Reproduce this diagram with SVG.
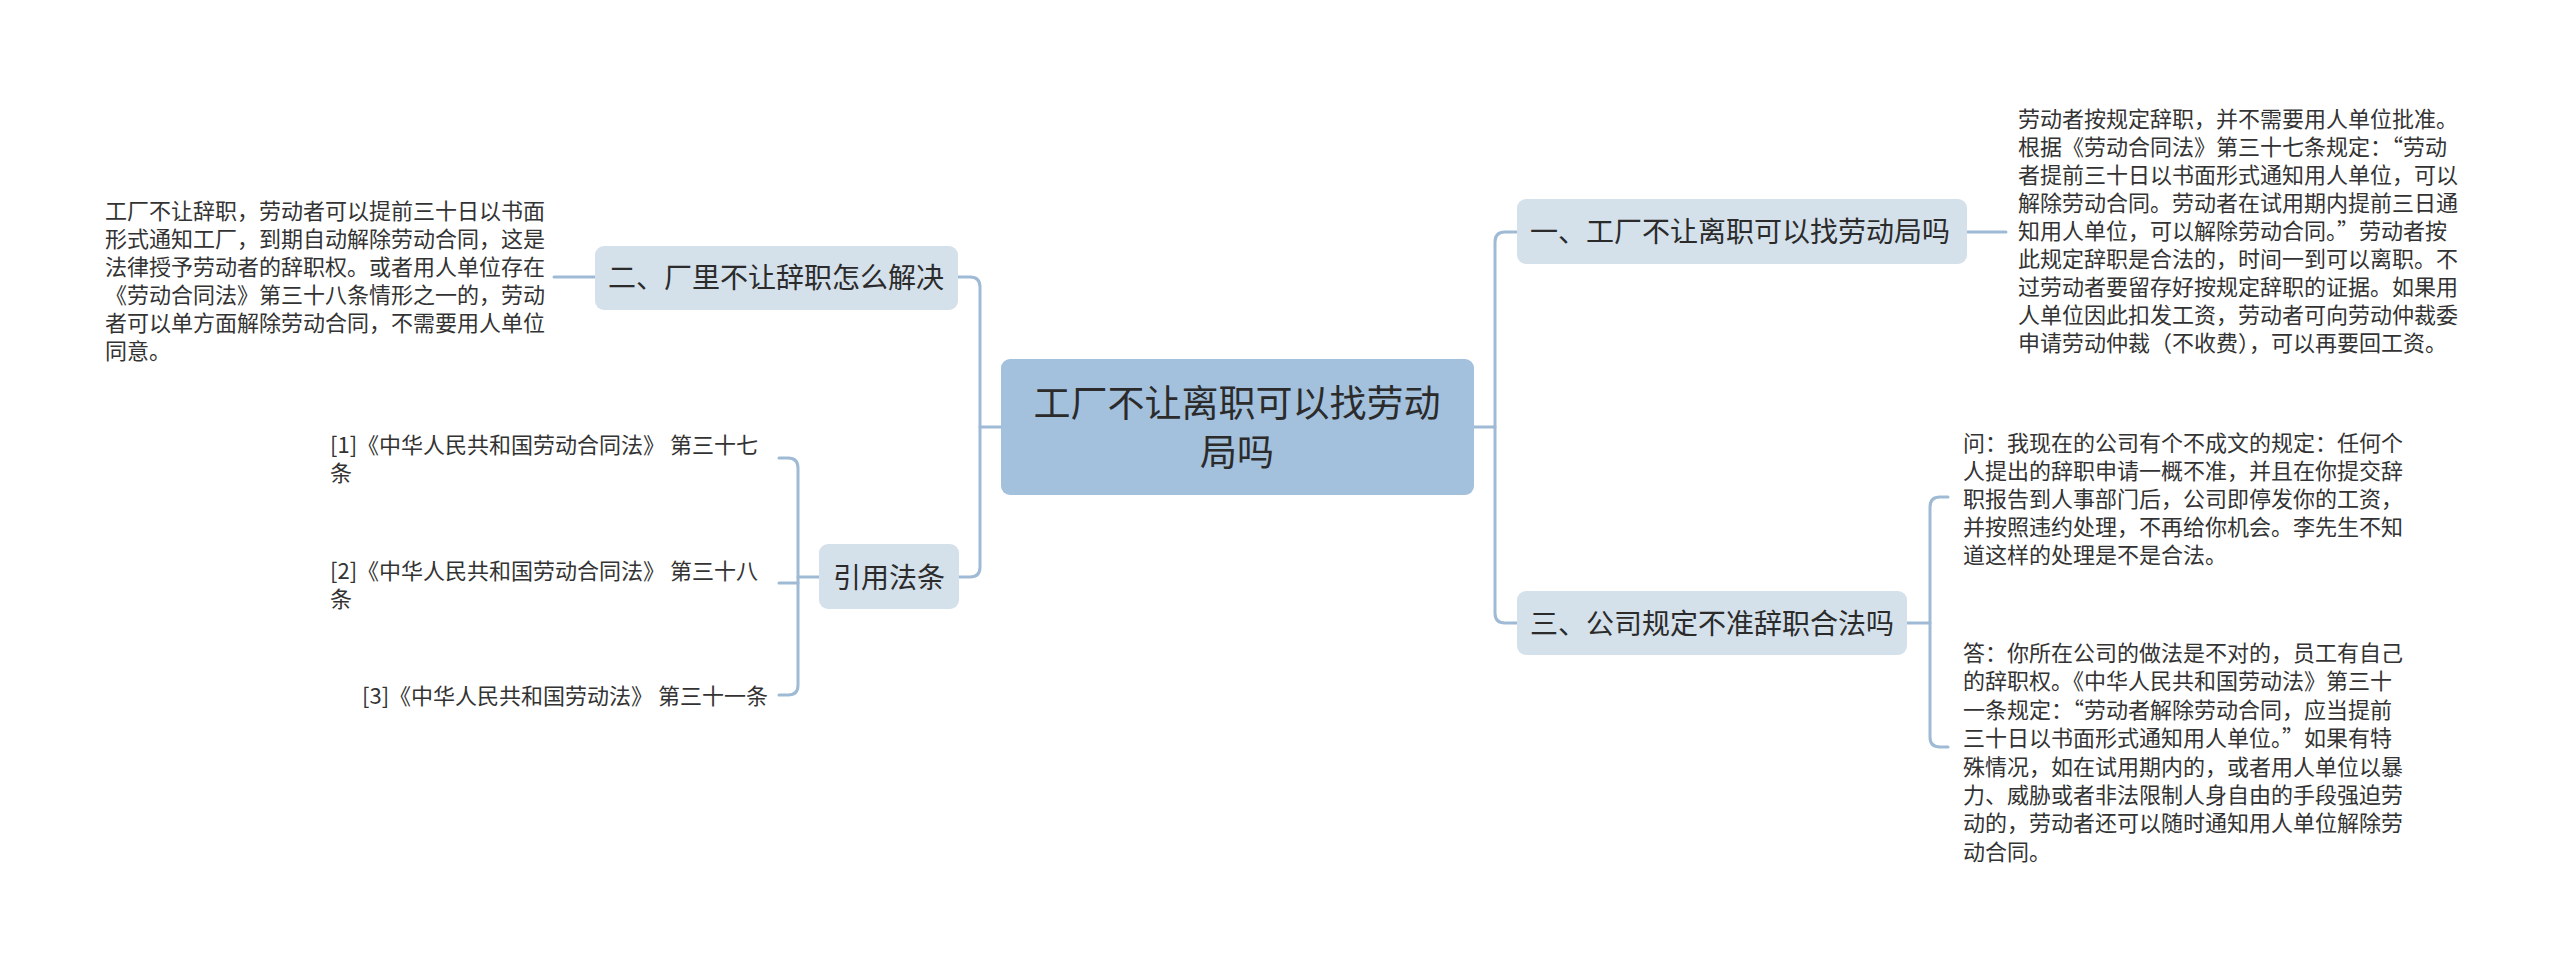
<svg xmlns="http://www.w3.org/2000/svg" width="2560" height="966" viewBox="0 0 2560 966">
<style>
.conn{fill:none;stroke:#9fbad5;stroke-width:3;stroke-linecap:round}
.root{fill:#a3c0dc}
.sub{fill:#d4e0ea}
text{font-family:"Noto Sans CJK SC","Microsoft YaHei",sans-serif;fill:#2b2b2b}
.t36{font-size:37px}
.t28{font-size:28px}
.t22{font-size:22px;fill:#333}
</style>
<rect width="2560" height="966" fill="#ffffff"/>
<g id="connectors">
<path class="conn" d="M1474,427 H1495"/>
<path class="conn" d="M1517,232 H1505 Q1495,232 1495,242 V613 Q1495,623 1505,623 H1517"/>
<path class="conn" d="M1967,232 H2006"/>
<path class="conn" d="M1907,623 H1930"/>
<path class="conn" d="M1948,497 H1940 Q1930,497 1930,507 V737 Q1930,747 1940,747 H1948"/>
<path class="conn" d="M1001,427 H980"/>
<path class="conn" d="M958,277 H970 Q980,277 980,287 V567 Q980,577 970,577 H958"/>
<path class="conn" d="M595,277 H554"/>
<path class="conn" d="M819,577 H798"/>
<path class="conn" d="M779,458 H788 Q798,458 798,468 V685 Q798,695 788,695 H779"/>
<path class="conn" d="M798,583 H779"/>
</g>
<g id="root">
<rect class="root" x="1001" y="359" width="473" height="136" rx="9"/>
<text class="t36" x="1237" y="417" text-anchor="middle">工厂不让离职可以找劳动</text>
<text class="t36" x="1237" y="466" text-anchor="middle">局吗</text>
</g>
<g id="node1">
<rect class="sub" x="1517" y="199" width="450" height="65" rx="9"/>
<text class="t28" x="1530" y="242">一、工厂不让离职可以找劳动局吗</text>
</g>
<g id="node1-text">
<text class="t22" x="2018" y="127">劳动者按规定辞职，并不需要用人单位批准。</text>
<text class="t22" x="2018" y="155">根据《劳动合同法》第三十七条规定：“劳动</text>
<text class="t22" x="2018" y="183">者提前三十日以书面形式通知用人单位，可以</text>
<text class="t22" x="2018" y="211">解除劳动合同。劳动者在试用期内提前三日通</text>
<text class="t22" x="2018" y="239">知用人单位，可以解除劳动合同。”劳动者按</text>
<text class="t22" x="2018" y="267">此规定辞职是合法的，时间一到可以离职。不</text>
<text class="t22" x="2018" y="295">过劳动者要留存好按规定辞职的证据。如果用</text>
<text class="t22" x="2018" y="323">人单位因此扣发工资，劳动者可向劳动仲裁委</text>
<text class="t22" x="2018" y="351">申请劳动仲裁（不收费），可以再要回工资。</text>
</g>
<g id="node3">
<rect class="sub" x="1517" y="591" width="390" height="64" rx="9"/>
<text class="t28" x="1530" y="634">三、公司规定不准辞职合法吗</text>
</g>
<g id="node3-q">
<text class="t22" x="1963" y="451">问：我现在的公司有个不成文的规定：任何个</text>
<text class="t22" x="1963" y="479">人提出的辞职申请一概不准，并且在你提交辞</text>
<text class="t22" x="1963" y="507">职报告到人事部门后，公司即停发你的工资，</text>
<text class="t22" x="1963" y="535">并按照违约处理，不再给你机会。李先生不知</text>
<text class="t22" x="1963" y="563">道这样的处理是不是合法。</text>
</g>
<g id="node3-a">
<text class="t22" x="1963" y="661">答：你所在公司的做法是不对的，员工有自己</text>
<text class="t22" x="1963" y="689.4">的辞职权。《中华人民共和国劳动法》第三十</text>
<text class="t22" x="1963" y="717.8">一条规定：“劳动者解除劳动合同，应当提前</text>
<text class="t22" x="1963" y="746.2">三十日以书面形式通知用人单位。”如果有特</text>
<text class="t22" x="1963" y="774.6">殊情况，如在试用期内的，或者用人单位以暴</text>
<text class="t22" x="1963" y="803">力、威胁或者非法限制人身自由的手段强迫劳</text>
<text class="t22" x="1963" y="831.4">动的，劳动者还可以随时通知用人单位解除劳</text>
<text class="t22" x="1963" y="859.8">动合同。</text>
</g>
<g id="node2">
<rect class="sub" x="595" y="246" width="363" height="64" rx="9"/>
<text class="t28" x="608" y="288">二、厂里不让辞职怎么解决</text>
</g>
<g id="node2-text">
<text class="t22" x="105" y="219">工厂不让辞职，劳动者可以提前三十日以书面</text>
<text class="t22" x="105" y="247">形式通知工厂，到期自动解除劳动合同，这是</text>
<text class="t22" x="105" y="275">法律授予劳动者的辞职权。或者用人单位存在</text>
<text class="t22" x="105" y="303">《劳动合同法》第三十八条情形之一的，劳动</text>
<text class="t22" x="105" y="331">者可以单方面解除劳动合同，不需要用人单位</text>
<text class="t22" x="105" y="359">同意。</text>
</g>
<g id="node4">
<rect class="sub" x="819" y="544" width="140" height="65" rx="9"/>
<text class="t28" x="889" y="588" text-anchor="middle">引用法条</text>
</g>
<g id="ref1">
<text class="t22" x="330" y="453">[1]《中华人民共和国劳动合同法》 第三十七</text>
<text class="t22" x="330" y="481">条</text>
</g>
<g id="ref2">
<text class="t22" x="330" y="579">[2]《中华人民共和国劳动合同法》 第三十八</text>
<text class="t22" x="330" y="607">条</text>
</g>
<g id="ref3">
<text class="t22" x="768" y="704" text-anchor="end">[3]《中华人民共和国劳动法》 第三十一条</text>
</g>
</svg>
